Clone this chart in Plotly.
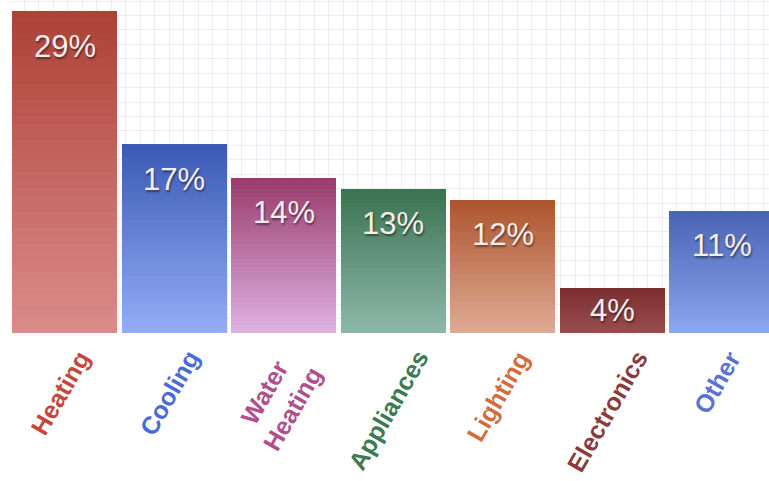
import plotly.graph_objects as go

# Share of household energy use by end use
categories = ["Heating", "Cooling", "Water<br>Heating", "Appliances", "Lighting", "Electronics", "Other"]
shares = [29, 17, 14, 13, 12, 4, 11]

# Per-bar gradient colours (top, bottom) and label colours
top_colors = ["#ad4136", "#3b59b4", "#983c6c", "#3a7350", "#ad542c", "#7a2f31", "#4a62b2"]
bottom_colors = ["#db8c8b", "#93aef7", "#dfb2e3", "#8fb8ac", "#dfab95", "#9a4d4d", "#8ba8f0"]
label_colors = ["#c4473e", "#4a6ad8", "#b04f8c", "#3c7a52", "#d36c3c", "#8a3a3a", "#5a72d2"]

N_STEPS = 40
Y_MAX = 30
PLOT_H = 333  # pixel height of the plotting area
FONT = "Liberation Sans, Arial, sans-serif"


def hex_to_rgb(h):
    h = h.lstrip("#")
    return tuple(int(h[k:k + 2], 16) for k in (0, 2, 4))


def mix(c_bottom, c_top, t):
    a, b = hex_to_rgb(c_bottom), hex_to_rgb(c_top)
    return "rgb({},{},{})".format(*(round(a[k] + (b[k] - a[k]) * t) for k in range(3)))


x_pos = list(range(len(categories)))
fig = go.Figure()

# Each bar is stacked from thin slices so it fades from its dark top to a light base
for j in range(N_STEPS):
    t = (j + 0.5) / N_STEPS
    fig.add_trace(go.Bar(
        x=x_pos,
        y=[v / N_STEPS for v in shares],
        marker=dict(color=[mix(bottom_colors[i], top_colors[i], t) for i in range(len(shares))],
                    line=dict(width=0)),
        hoverinfo="skip",
        showlegend=False,
    ))

# Value labels near the top of each bar (centred on short bars)
for i, v in enumerate(shares):
    bar_px = v * PLOT_H / Y_MAX
    fig.add_annotation(
        x=x_pos[i], y=v, xref="x", yref="y",
        text=f"{v}%", showarrow=False, yanchor="middle", yshift=-min(35, bar_px / 2),
        font=dict(family=FONT, size=31, color="#f4eeee",
                  shadow="1px 2px 2px rgba(0,0,0,0.45)"),
    )

# Rotated category labels, centred under each bar
for i, c in enumerate(categories):
    fig.add_annotation(
        x=x_pos[i], y=0, xref="x", yref="y",
        text=f"<b>{c}</b>", showarrow=False, textangle=-60,
        xanchor="center", yanchor="top", xshift=-5, yshift=-10,
        font=dict(family=FONT, size=25, color=label_colors[i]),
    )

grid_col = "rgba(200,200,240,0.32)"

fig.update_layout(
    width=769, height=481,
    margin=dict(l=10, r=0, t=0, b=481 - PLOT_H),
    barmode="stack", bargap=0.04,
    paper_bgcolor="white", plot_bgcolor="white",
    font=dict(family=FONT),
    xaxis=dict(
        range=[-0.5, 6.43], tickvals=x_pos, showticklabels=False,
        showgrid=False, zeroline=False, showline=False, ticks="",
        minor=dict(dtick=0.1323, tick0=-0.5, showgrid=True, gridcolor=grid_col, gridwidth=1),
    ),
    yaxis=dict(
        range=[0, Y_MAX], showticklabels=False, zeroline=False, showline=False, ticks="",
        showgrid=True, dtick=1.3, gridcolor=grid_col, gridwidth=1,
    ),
)

fig.write_html("out.html")
